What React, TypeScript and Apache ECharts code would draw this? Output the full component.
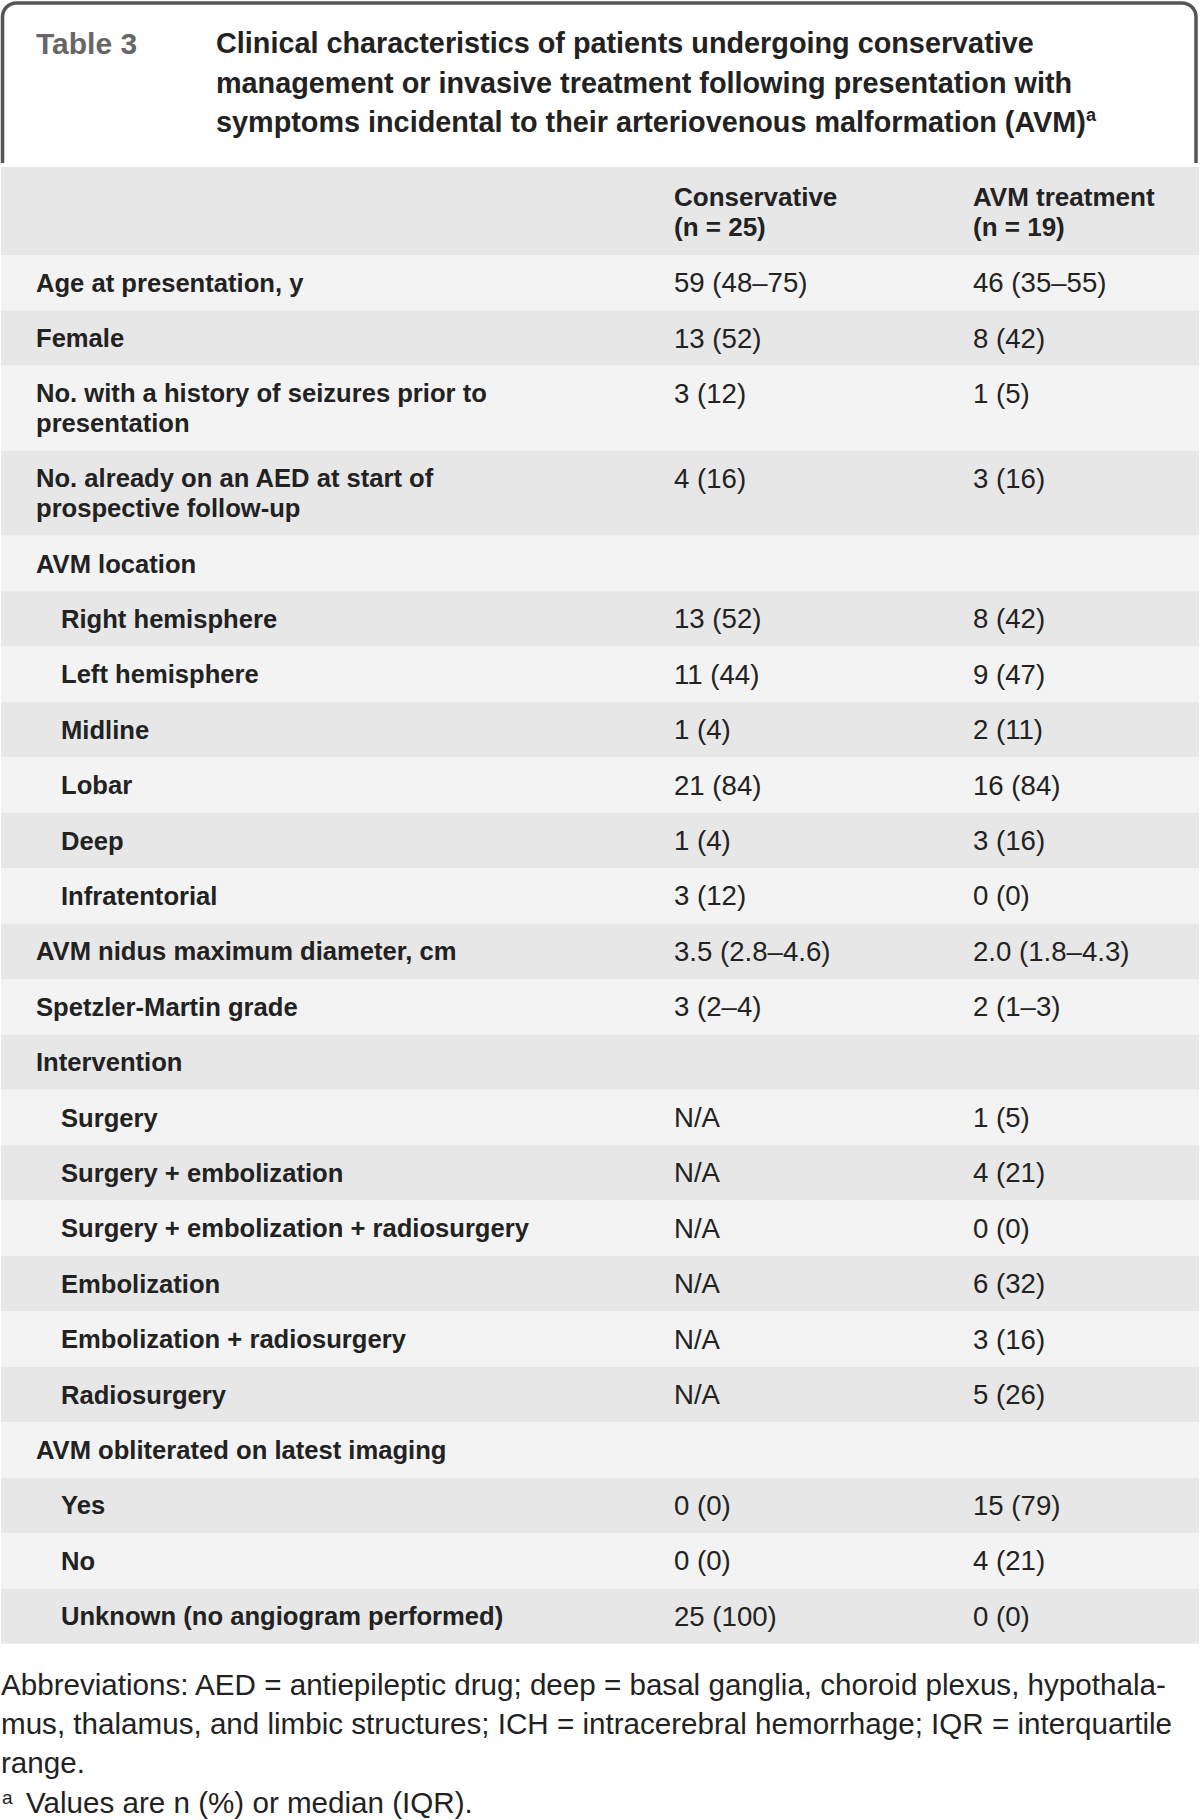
import React, { useEffect, useRef } from "react";
import * as echarts from "echarts";

// ---------- data ----------
const tableNumber = "Table 3";
const captionLines = [
  "Clinical characteristics of patients undergoing conservative",
  "management or invasive treatment following presentation with",
  "symptoms incidental to their arteriovenous malformation (AVM)",
];
const captionMark = "a";

const columnHeaders = [
  ["Conservative", "(n = 25)"],
  ["AVM treatment", "(n = 19)"],
];

const rowLabels = [
  ["Age at presentation, y"],
  ["Female"],
  ["No. with a history of seizures prior to", "presentation"],
  ["No. already on an AED at start of", "prospective follow-up"],
  ["AVM location"],
  ["Right hemisphere"],
  ["Left hemisphere"],
  ["Midline"],
  ["Lobar"],
  ["Deep"],
  ["Infratentorial"],
  ["AVM nidus maximum diameter, cm"],
  ["Spetzler-Martin grade"],
  ["Intervention"],
  ["Surgery"],
  ["Surgery + embolization"],
  ["Surgery + embolization + radiosurgery"],
  ["Embolization"],
  ["Embolization + radiosurgery"],
  ["Radiosurgery"],
  ["AVM obliterated on latest imaging"],
  ["Yes"],
  ["No"],
  ["Unknown (no angiogram performed)"],
];

const rowIndented = [
  false, false, false, false, false,
  true, true, true, true, true, true,
  false, false, false,
  true, true, true, true, true, true,
  false,
  true, true, true,
];

const conservative = [
  "59 (48–75)", "13 (52)", "3 (12)", "4 (16)", "",
  "13 (52)", "11 (44)", "1 (4)", "21 (84)", "1 (4)", "3 (12)",
  "3.5 (2.8–4.6)", "3 (2–4)", "",
  "N/A", "N/A", "N/A", "N/A", "N/A", "N/A",
  "",
  "0 (0)", "0 (0)", "25 (100)",
];

const avmTreatment = [
  "46 (35–55)", "8 (42)", "1 (5)", "3 (16)", "",
  "8 (42)", "9 (47)", "2 (11)", "16 (84)", "3 (16)", "0 (0)",
  "2.0 (1.8–4.3)", "2 (1–3)", "",
  "1 (5)", "4 (21)", "0 (0)", "6 (32)", "3 (16)", "5 (26)",
  "",
  "15 (79)", "4 (21)", "0 (0)",
];

const footnoteLines = [
  "Abbreviations: AED = antiepileptic drug; deep = basal ganglia, choroid plexus, hypothala-",
  "mus, thalamus, and limbic structures; ICH = intracerebral hemorrhage; IQR = interquartile",
  "range.",
];
const footnoteMark = "a";
const footnoteNote = "Values are n (%) or median (IQR).";

// ---------- layout / style ----------
const FONT = "'Liberation Sans', Arial, sans-serif";
const W = 1200;
const H = 1820;
const LIGHT = "#f3f3f3";
const DARK = "#e7e7e7";
const INK = "#222222";

export default function App() {
  const ref = useRef<HTMLDivElement>(null);

  useEffect(() => {
    const chart = echarts.init(ref.current!, null, { renderer: "svg" });
    const els: any[] = [];

    // caption box with rounded top border
    els.push({
      type: "rect",
      shape: { x: 2.5, y: 3, width: 1193.5, height: 200, r: [14, 14, 0, 0] },
      style: { fill: "#ffffff", stroke: "#555555", lineWidth: 3.5 },
    });
    els.push({
      type: "rect",
      shape: { x: 0, y: 163, width: W, height: 60 },
      style: { fill: "#ffffff" },
    });
    els.push({
      type: "text",
      x: 36,
      y: 43,
      style: {
        text: tableNumber,
        font: `bold 30px ${FONT}`,
        fill: "#666666",
        verticalAlign: "middle",
      },
    });
    captionLines.forEach((line, i) => {
      const isLast = i === captionLines.length - 1;
      els.push({
        type: "text",
        x: 216,
        y: 43 + i * 39.5,
        style: isLast
          ? {
              text: `{m|${line}}{s|${captionMark}}`,
              verticalAlign: "middle",
              rich: {
                m: { font: `bold 28.8px ${FONT}`, fill: INK, lineHeight: 32 },
                s: {
                  font: `bold 18px ${FONT}`,
                  fill: INK,
                  lineHeight: 18,
                  verticalAlign: "top",
                },
              },
            }
          : {
              text: line,
              font: `bold 28.8px ${FONT}`,
              fill: INK,
              verticalAlign: "middle",
            },
      });
    });

    // header band
    const colX = [674, 973];
    const headerTop = 167;
    const headerBottom = 255;
    els.push({
      type: "rect",
      shape: { x: 1, y: headerTop, width: W - 2, height: headerBottom - headerTop },
      style: { fill: DARK },
    });
    columnHeaders.forEach((lines, c) => {
      lines.forEach((t, k) => {
        els.push({
          type: "text",
          x: colX[c],
          y: 197 + k * 30,
          style: { text: t, font: `bold 26px ${FONT}`, fill: INK, verticalAlign: "middle" },
        });
      });
    });

    // body rows
    const singleH = 55.4;
    const doubleH = 85;
    let y = headerBottom;
    rowLabels.forEach((lines, r) => {
      const h = lines.length > 1 ? doubleH : singleH;
      els.push({
        type: "rect",
        shape: { x: 1, y, width: W - 2, height: h },
        style: { fill: r % 2 === 0 ? LIGHT : DARK },
      });
      const firstY = lines.length > 1 ? y + 27.5 : y + h / 2;
      lines.forEach((t, k) => {
        els.push({
          type: "text",
          x: rowIndented[r] ? 61 : 36,
          y: firstY + k * 30,
          style: { text: t, font: `bold 25.6px ${FONT}`, fill: INK, verticalAlign: "middle" },
        });
      });
      [conservative[r], avmTreatment[r]].forEach((v, c) => {
        if (!v) return;
        els.push({
          type: "text",
          x: colX[c],
          y: firstY,
          style: { text: v, font: `27.6px ${FONT}`, fill: INK, verticalAlign: "middle" },
        });
      });
      y += h;
    });

    // footnotes
    const fnMid = [1684.5, 1723.5, 1762.5];
    footnoteLines.forEach((t, i) => {
      els.push({
        type: "text",
        x: 1,
        y: fnMid[i],
        style: { text: t, font: `29.6px ${FONT}`, fill: INK, verticalAlign: "middle" },
      });
    });
    els.push({
      type: "text",
      x: 2,
      y: 1797.5,
      style: { text: footnoteMark, font: `19px ${FONT}`, fill: INK, verticalAlign: "middle" },
    });
    els.push({
      type: "text",
      x: 26,
      y: 1802.5,
      style: { text: footnoteNote, font: `29.6px ${FONT}`, fill: INK, verticalAlign: "middle" },
    });

    chart.setOption({
      animation: false,
      backgroundColor: "#ffffff",
      graphic: { elements: els },
    });
    return () => chart.dispose();
  }, []);

  return (
    <div
      ref={ref}
      style={{ position: "absolute", left: 0, top: 0, width: W, height: H, background: "#fff" }}
    />
  );
}
